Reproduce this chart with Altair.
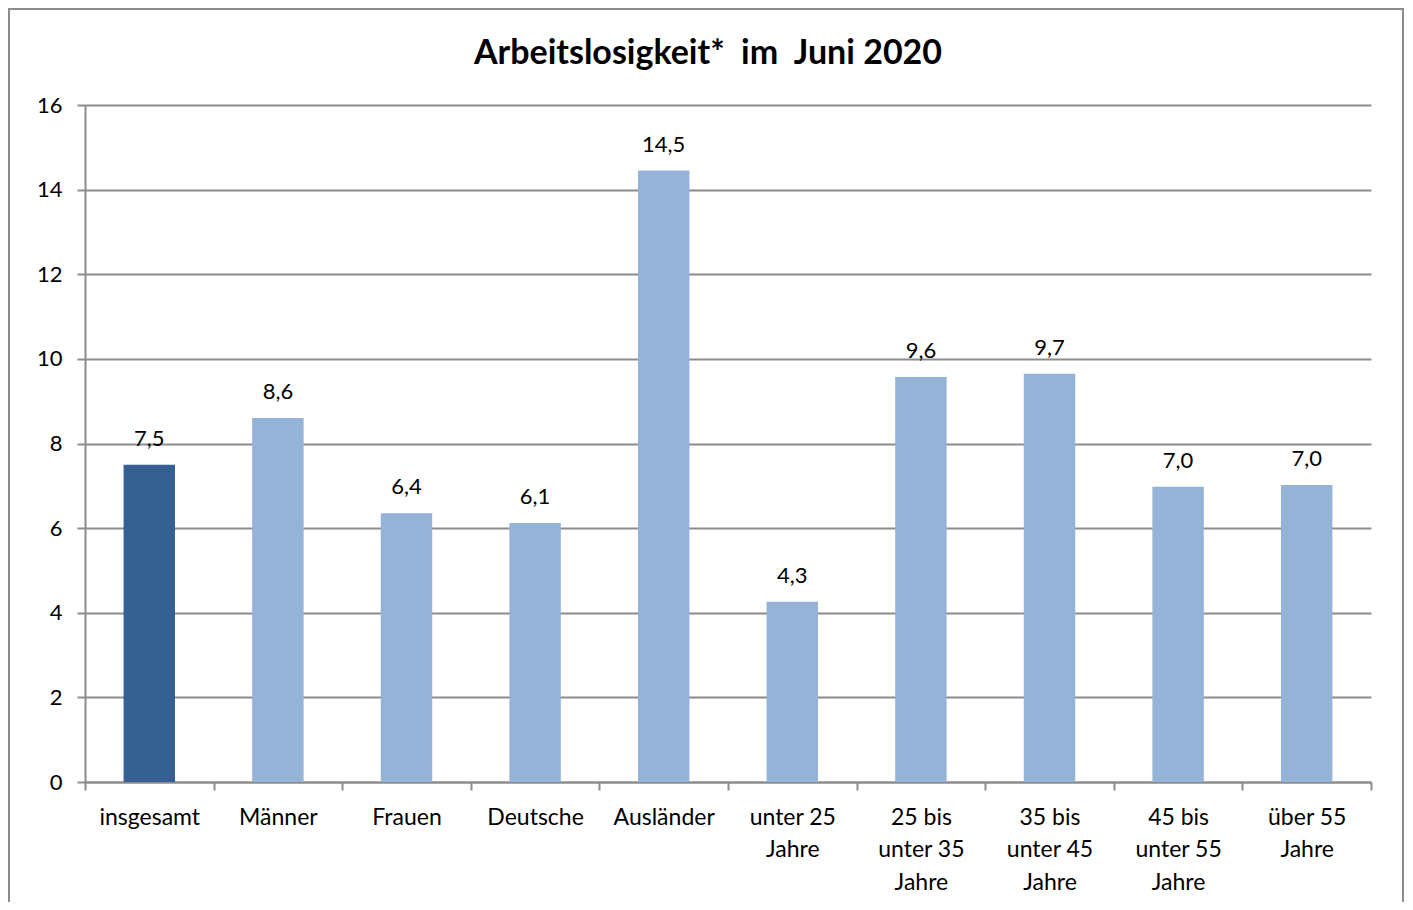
import altair as alt
import pandas as pd

categories = ["insgesamt", "Männer", "Frauen", "Deutsche", "Ausländer",
              "unter 25\nJahre", "25 bis\nunter 35\nJahre", "35 bis\nunter 45\nJahre",
              "45 bis\nunter 55\nJahre", "über 55\nJahre"]
values = [7.5, 8.6, 6.35, 6.12, 14.45, 4.26, 9.57, 9.65, 6.98, 7.02]
labels = ["7,5", "8,6", "6,4", "6,1", "14,5", "4,3", "9,6", "9,7", "7,0", "7,0"]
title_text = ["Arbeitslosigkeit*\u00a0 im\u00a0 Juni 2020"]

df = pd.DataFrame({"cat": categories, "val": values, "lab": labels})

FONT = "Lato"
GRID = "#8c8c8c"

x = alt.X("cat:N", sort=None, title=None,
          scale=alt.Scale(paddingInner=0, paddingOuter=0),
          axis=alt.Axis(labelAngle=0, labelExpr="split(datum.label, '\\n')",
                        labelFont=FONT, labelFontSize=23, labelColor="black",
                        labelLineHeight=32.5, labelPadding=16,
                        tickBand="extent", tickSize=8, tickColor=GRID, tickWidth=2,
                        domainColor=GRID, domainWidth=2, grid=False))
y = alt.Y("val:Q", title=None,
          scale=alt.Scale(domain=[0, 16], nice=False),
          axis=alt.Axis(values=[0, 2, 4, 6, 8, 10, 12, 14, 16],
                        labelFont=FONT, labelFontSize=22, labelColor="black",
                        labelPadding=15, tickSize=8, tickColor=GRID, tickWidth=2,
                        domainColor=GRID, domainWidth=2,
                        grid=True, gridColor=GRID, gridWidth=2))

base = alt.Chart(df)

bars = base.mark_bar(width=alt.RelativeBandSize(0.4)).encode(
    x=x, y=y,
    color=alt.condition(alt.datum.cat == "insgesamt", alt.value("#376092"), alt.value("#95B3D7")),
)

text = base.mark_text(font=FONT, fontSize=22, color="black", baseline="alphabetic", dy=-19).encode(
    x=x, y=y, text="lab:N"
)

frame = alt.Chart(pd.DataFrame({"k": [0]})).mark_rect(
    fill=None, stroke="#8c8c8c", strokeWidth=2
).encode(x=alt.value(-76), x2=alt.value(1318), y=alt.value(-96), y2=alt.value(900))

title = alt.Chart(pd.DataFrame({"t": title_text})).mark_text(
    font=FONT, fontSize=34, fontWeight="bold", color="black",
    align="center", baseline="alphabetic"
).encode(x=alt.value(623), y=alt.value(-41), text="t:N")

chart = alt.layer(frame, bars, text, title).properties(
    width=1286, height=677,
    autosize=alt.AutoSizeParams(type="none"),
    padding={"left": 77, "top": 97, "right": 34, "bottom": 120},
).configure_view(stroke=None)

chart.save("out.html", embed_options={"renderer": "svg", "actions": False})
